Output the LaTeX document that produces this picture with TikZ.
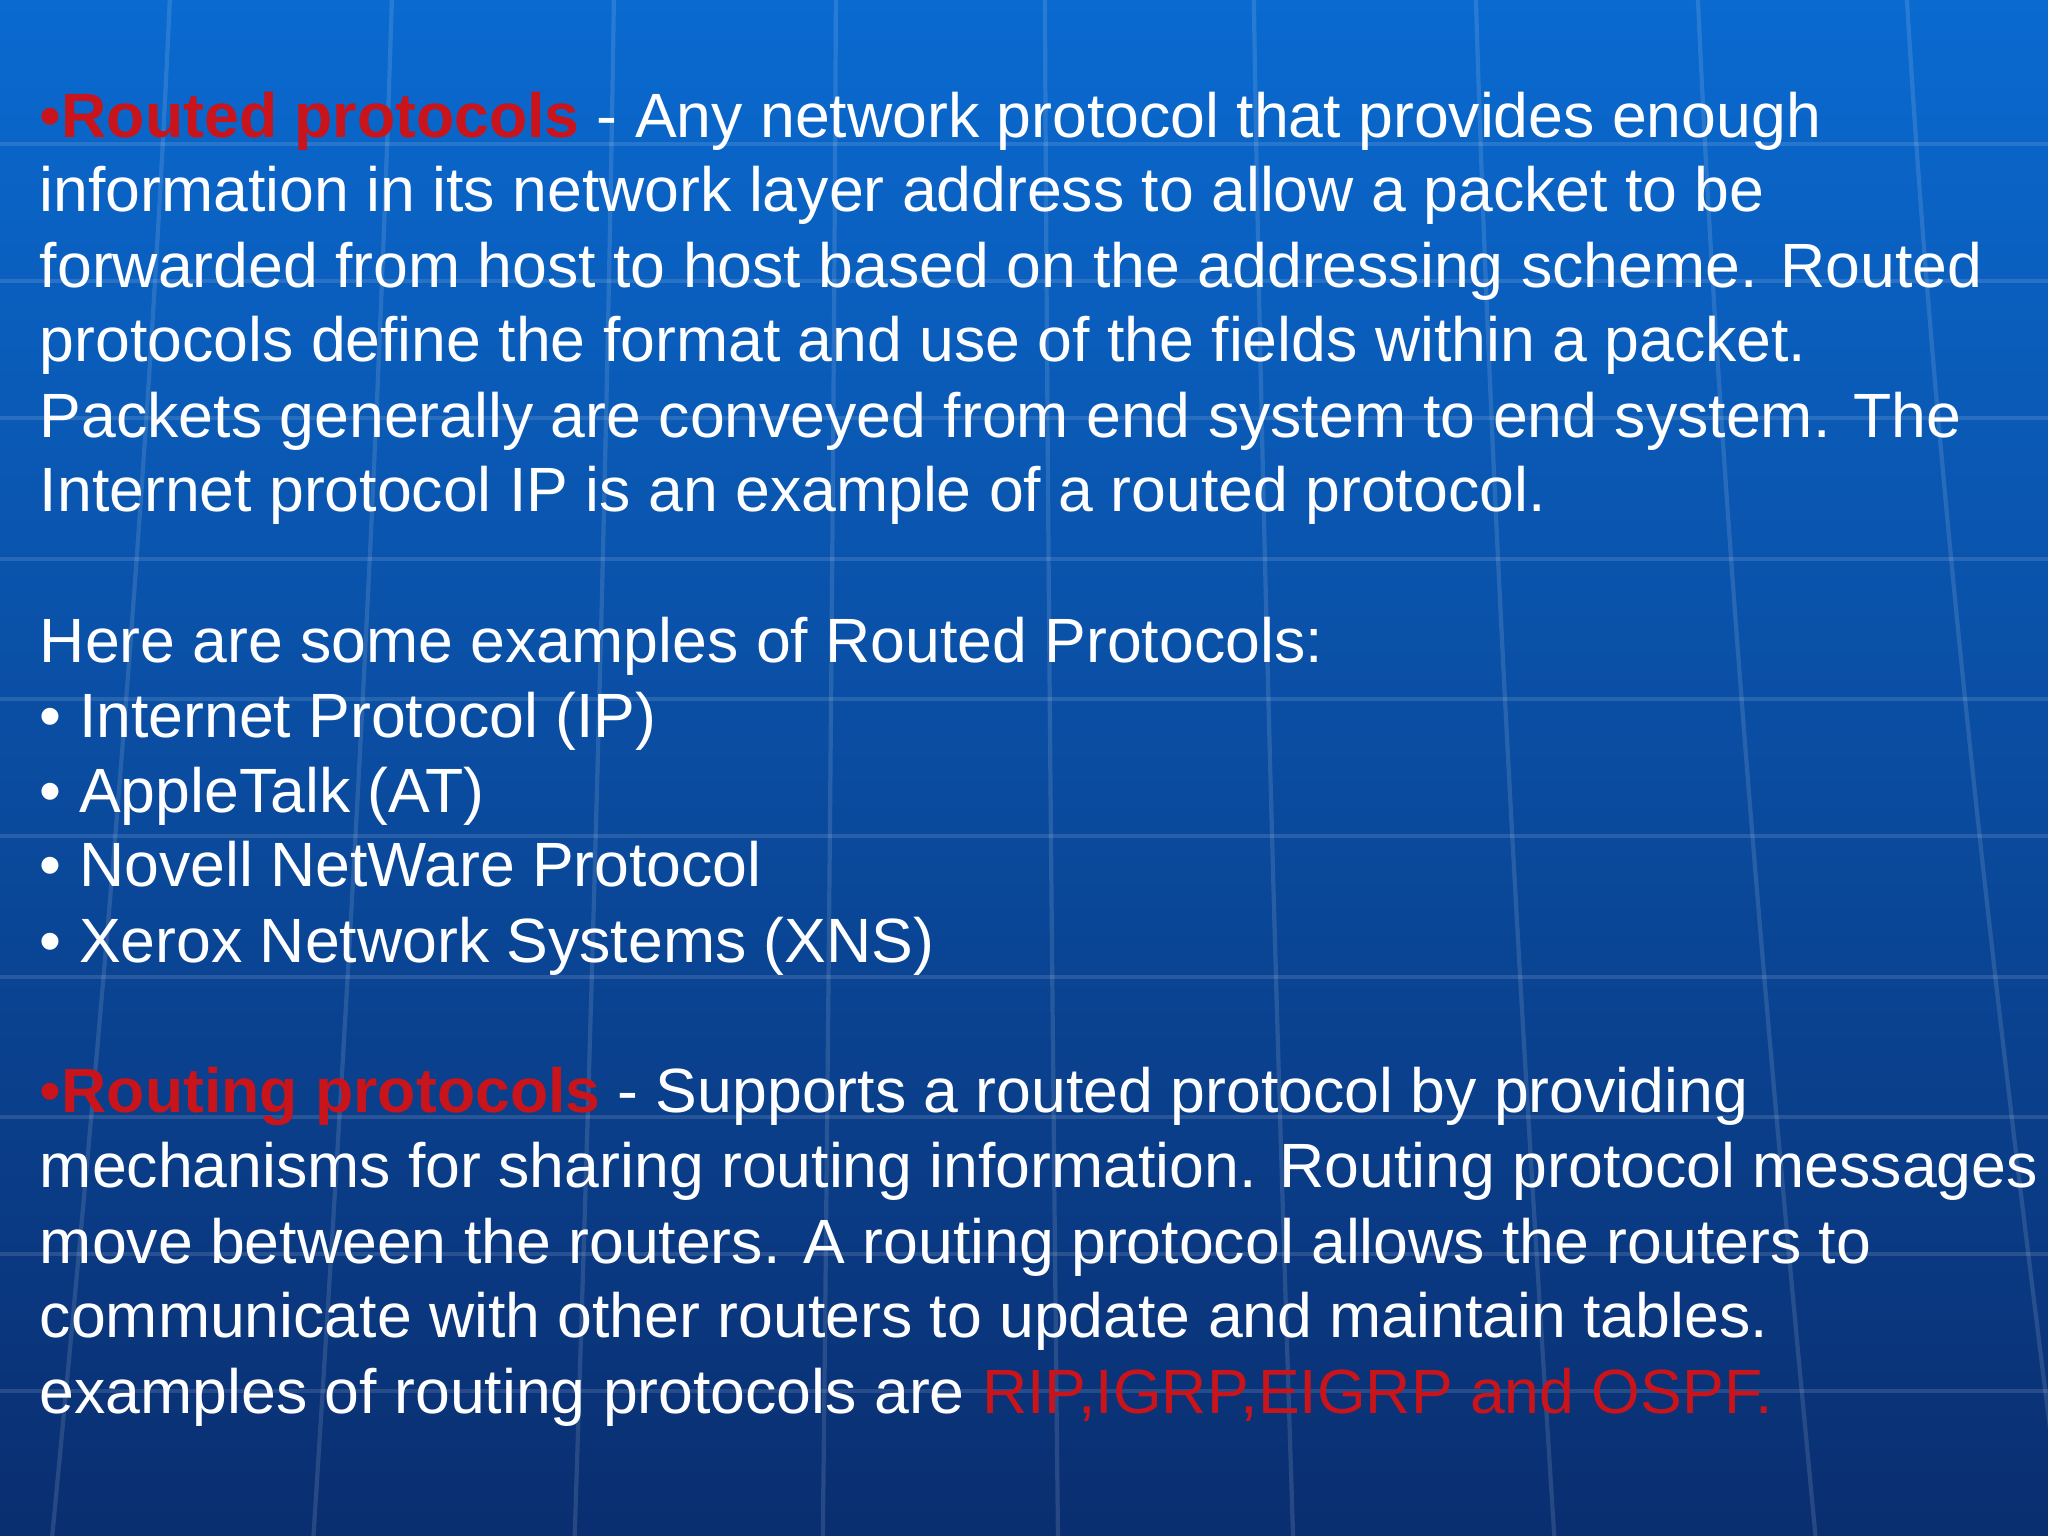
\documentclass[tikz,border=0pt]{standalone}
\usepackage{fontspec}
\setmainfont{Liberation Sans}
\definecolor{rd}{HTML}{C8141A}
\definecolor{bgtop}{HTML}{0A6AD0}
\definecolor{bgbot}{HTML}{0A2E70}
\begin{document}
\begin{tikzpicture}[x=0.01306cm,y=-0.01306cm,
  ln/.style={anchor=base west,inner sep=0pt,text=white,font=\fontsize{17.8}{21}\selectfont},
  grid/.style={draw=white,opacity=0.12,line width=1.2pt}]
\shade[top color=bgtop,bottom color=bgbot] (0,0) rectangle (1568,1176);
\useasboundingbox (0,0) rectangle (1568,1176);
% faint globe grid
\foreach \yy in {110,215,320,428,535,640,748,855,960,1065}
  \draw[grid] (0,\yy) -- (1568,\yy);
\foreach \xx/\bend in {130/-18,300/-12,470/-6,640/-2,800/2,960/6,1130/12,1300/18,1460/24}
  \draw[grid] (\xx,0) .. controls (\xx+\bend,400) and (\xx+\bend*3,800) .. (\xx+\bend*5,1176);
\node[ln] (l1) at (30,105) {{\color{rd}•\textbf{Routed protocols}} - Any network protocol that provides enough};
\node[ln] (l2) at (30,162) {information in its network layer address to allow a packet to be};
\node[ln] (l3) at (30,220) {forwarded from host to host based on the addressing scheme. Routed};
\node[ln] (l4) at (30,277) {protocols define the format and use of the fields within a packet.};
\node[ln] (l5) at (30,335) {Packets generally are conveyed from end system to end system. The};
\node[ln] (l6) at (30,392) {Internet protocol IP is an example of a routed protocol.};
\node[ln] (h1) at (30,507) {Here are some examples of Routed Protocols:};
\node[ln] (b1) at (30,565) {• Internet Protocol (IP)};
\node[ln] (b2) at (30,622) {• AppleTalk (AT)};
\node[ln] (b3) at (30,679) {• Novell NetWare Protocol};
\node[ln] (b4) at (30,737) {• Xerox Network Systems (XNS)};
\node[ln] (r1) at (30,852) {{\color{rd}•\textbf{Routing protocols}} - Supports a routed protocol by providing};
\node[ln] (r2) at (30,909) {mechanisms for sharing routing information. Routing protocol messages};
\node[ln] (r3) at (30,967) {move between the routers. A routing protocol allows the routers to};
\node[ln] (r4) at (30,1024) {communicate with other routers to update and maintain tables.};
\node[ln] (r5) at (30,1082) {examples of routing protocols are {\color{rd}RIP,IGRP,EIGRP and OSPF.}};
\end{tikzpicture}
\end{document}
